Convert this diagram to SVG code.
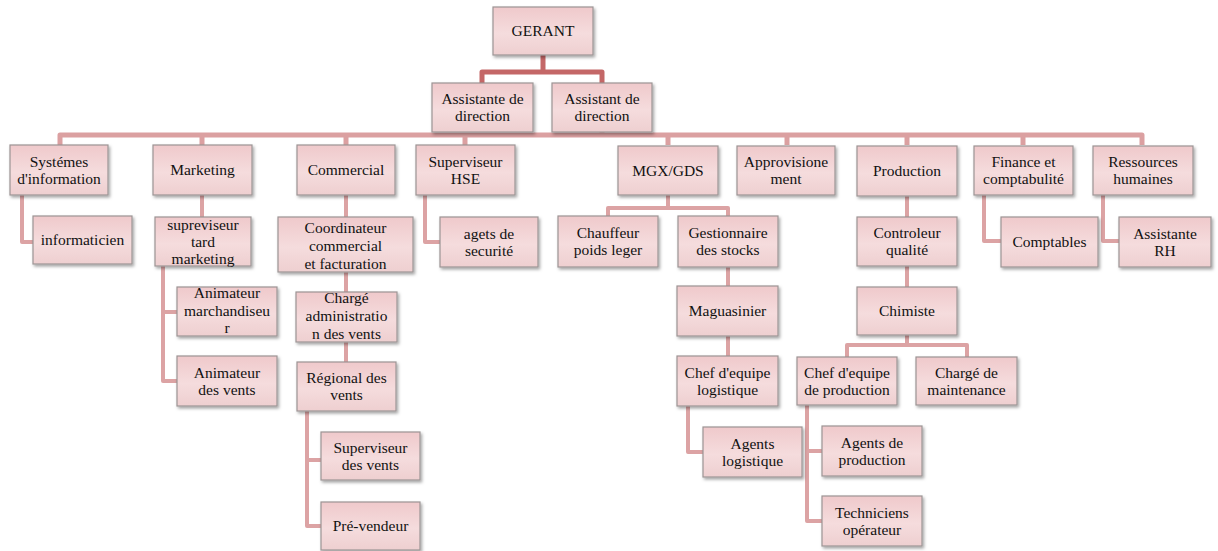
<svg xmlns="http://www.w3.org/2000/svg" width="1218" height="551" viewBox="0 0 1218 551">
<defs>
<linearGradient id="bg" x1="0" y1="0" x2="0" y2="1">
<stop offset="0" stop-color="#efc9cb"/>
<stop offset="0.55" stop-color="#f5dcdd"/>
<stop offset="1" stop-color="#eecfd0"/>
</linearGradient>
<filter id="sh" x="-10%" y="-10%" width="125%" height="130%">
<feDropShadow dx="1.5" dy="2" stdDeviation="1.5" flood-color="#000" flood-opacity="0.35"/>
</filter>
</defs>
<style>
.box{fill:url(#bg);stroke:#9c9494;stroke-width:1.2;filter:url(#sh)}
.t{font-family:"Liberation Serif","Times New Roman",serif;font-size:15.5px;fill:#111;text-anchor:middle}
.c{fill:none;stroke:#dca3a4;stroke-width:4;stroke-linejoin:round}
.top{fill:none;stroke:#c46767;stroke-width:5;stroke-linejoin:round}
.bar{fill:none;stroke:#dba0a1;stroke-width:5;stroke-linejoin:round}
</style>
<rect width="1218" height="551" fill="#fff"/>
<g id="connectors">
<path class="top" d="M543,55 V72 M482,83 V72 H602 V83"/>
<path class="bar" d="M60,145 V135 H1142 V145 M202,135 V145 M346,135 V145 M465,135 V145 M668,135 V145 M787,135 V145 M907,135 V145 M1023,135 V145 M602,132 V135"/>
<path class="c" d="M22,195 V242 H33"/>
<path class="c" d="M202,195 V217"/>
<path class="c" d="M163,266 V381 H177 M163,312 H177"/>
<path class="c" d="M346,195 V217 M346,272 V292 M346,342 V362"/>
<path class="c" d="M307,411 V526 H321 M307,460 H321"/>
<path class="c" d="M425,195 V242 H440"/>
<path class="c" d="M668,195 V208 M608,216 V208 H728 V216"/>
<path class="c" d="M728,267 V286 M728,336 V356"/>
<path class="c" d="M688,406 V452 H703"/>
<path class="c" d="M907,195 V217 M907,266 V287 M907,335 V345 M847,357 V345 H967 V357"/>
<path class="c" d="M807,405 V521 H822 M807,451 H822"/>
<path class="c" d="M984,195 V241 H1001"/>
<path class="c" d="M1103,195 V241 H1119"/>
</g>
<g id="n-gerant"><rect class="box" x="493" y="7" width="100" height="48"/><text class="t" x="543" y="36.4">GERANT</text></g>
<g id="n-assistante"><rect class="box" x="432" y="83" width="101" height="49"/><text class="t" x="482.5" y="104.4">Assistante de</text><text class="t" x="482.5" y="121.4">direction</text></g>
<g id="n-assistant"><rect class="box" x="552" y="83" width="100" height="49"/><text class="t" x="602" y="104.4">Assistant de</text><text class="t" x="602" y="121.4">direction</text></g>
<g id="n-systemes"><rect class="box" x="10" y="145" width="98" height="50"/><text class="t" x="59" y="166.9">Systémes</text><text class="t" x="59" y="183.9">d'information</text></g>
<g id="n-marketing"><rect class="box" x="153" y="145" width="99" height="50"/><text class="t" x="202.5" y="175.4">Marketing</text></g>
<g id="n-commercial"><rect class="box" x="297" y="145" width="98" height="50"/><text class="t" x="346" y="175.4">Commercial</text></g>
<g id="n-hse"><rect class="box" x="416" y="145" width="99" height="50"/><text class="t" x="465.5" y="166.9">Superviseur</text><text class="t" x="465.5" y="183.9">HSE</text></g>
<g id="n-mgx"><rect class="box" x="618" y="146" width="100" height="49"/><text class="t" x="668" y="175.9">MGX/GDS</text></g>
<g id="n-appro"><rect class="box" x="737" y="146" width="98" height="49"/><text class="t" x="786" y="167.4">Approvisione</text><text class="t" x="786" y="184.4">ment</text></g>
<g id="n-production"><rect class="box" x="857" y="146" width="100" height="50"/><text class="t" x="907" y="176.4">Production</text></g>
<g id="n-finance"><rect class="box" x="974" y="146" width="99" height="49"/><text class="t" x="1023.5" y="167.4">Finance et</text><text class="t" x="1023.5" y="184.4">comptabulité</text></g>
<g id="n-rh"><rect class="box" x="1093" y="146" width="100" height="49"/><text class="t" x="1143" y="167.4">Ressources</text><text class="t" x="1143" y="184.4">humaines</text></g>
<g id="n-informaticien"><rect class="box" x="33" y="216" width="99" height="48"/><text class="t" x="82.5" y="245.4">informaticien</text></g>
<g id="n-supreviseur"><rect class="box" x="155" y="217" width="96" height="49"/><text class="t" x="203" y="229.9">supreviseur</text><text class="t" x="203" y="246.9">tard</text><text class="t" x="203" y="263.9">marketing</text></g>
<g id="n-anim-march"><rect class="box" x="177" y="287" width="100" height="49"/><text class="t" x="227" y="298.4">Animateur</text><text class="t" x="227" y="315.9">marchandiseu</text><text class="t" x="227" y="333.4">r</text></g>
<g id="n-anim-vents"><rect class="box" x="177" y="356" width="100" height="50"/><text class="t" x="227" y="377.9">Animateur</text><text class="t" x="227" y="394.9">des vents</text></g>
<g id="n-coord"><rect class="box" x="278" y="217" width="135" height="55"/><text class="t" x="345.5" y="233.4">Coordinateur</text><text class="t" x="345.5" y="251.4">commercial</text><text class="t" x="345.5" y="269.4">et facturation</text></g>
<g id="n-charge-admin"><rect class="box" x="296" y="292" width="101" height="50"/><text class="t" x="346.5" y="303.4">Chargé</text><text class="t" x="346.5" y="321.4">administratio</text><text class="t" x="346.5" y="339.4">n des vents</text></g>
<g id="n-regional"><rect class="box" x="297" y="362" width="99" height="49"/><text class="t" x="346.5" y="383.4">Régional des</text><text class="t" x="346.5" y="400.4">vents</text></g>
<g id="n-sup-vents"><rect class="box" x="321" y="432" width="99" height="48"/><text class="t" x="370.5" y="452.9">Superviseur</text><text class="t" x="370.5" y="469.9">des vents</text></g>
<g id="n-prevendeur"><rect class="box" x="321" y="502" width="99" height="48"/><text class="t" x="370.5" y="531.4">Pré-vendeur</text></g>
<g id="n-agets"><rect class="box" x="440" y="217" width="98" height="50"/><text class="t" x="489" y="238.9">agets de</text><text class="t" x="489" y="255.9">securité</text></g>
<g id="n-chauffeur"><rect class="box" x="558" y="216" width="100" height="51"/><text class="t" x="608" y="238.4">Chauffeur</text><text class="t" x="608" y="255.4">poids leger</text></g>
<g id="n-gestionnaire"><rect class="box" x="678" y="216" width="100" height="51"/><text class="t" x="728" y="238.4">Gestionnaire</text><text class="t" x="728" y="255.4">des stocks</text></g>
<g id="n-maguasinier"><rect class="box" x="677" y="286" width="101" height="50"/><text class="t" x="727.5" y="316.4">Maguasinier</text></g>
<g id="n-chef-log"><rect class="box" x="677" y="356" width="101" height="50"/><text class="t" x="727.5" y="377.9">Chef d'equipe</text><text class="t" x="727.5" y="394.9">logistique</text></g>
<g id="n-agents-log"><rect class="box" x="703" y="427" width="99" height="50"/><text class="t" x="752.5" y="448.9">Agents</text><text class="t" x="752.5" y="465.9">logistique</text></g>
<g id="n-controleur"><rect class="box" x="857" y="217" width="100" height="49"/><text class="t" x="907" y="238.4">Controleur</text><text class="t" x="907" y="255.4">qualité</text></g>
<g id="n-chimiste"><rect class="box" x="857" y="287" width="100" height="48"/><text class="t" x="907" y="316.4">Chimiste</text></g>
<g id="n-chef-prod"><rect class="box" x="797" y="357" width="100" height="48"/><text class="t" x="847" y="377.9">Chef d'equipe</text><text class="t" x="847" y="394.9">de production</text></g>
<g id="n-maintenance"><rect class="box" x="916" y="357" width="101" height="48"/><text class="t" x="966.5" y="377.9">Chargé de</text><text class="t" x="966.5" y="394.9">maintenance</text></g>
<g id="n-agents-prod"><rect class="box" x="822" y="426" width="100" height="50"/><text class="t" x="872" y="447.9">Agents de</text><text class="t" x="872" y="464.9">production</text></g>
<g id="n-techniciens"><rect class="box" x="822" y="496" width="100" height="50"/><text class="t" x="872" y="517.9">Techniciens</text><text class="t" x="872" y="534.9">opérateur</text></g>
<g id="n-comptables"><rect class="box" x="1001" y="217" width="97" height="50"/><text class="t" x="1049.5" y="247.4">Comptables</text></g>
<g id="n-assistante-rh"><rect class="box" x="1119" y="217" width="92" height="50"/><text class="t" x="1165" y="238.9">Assistante</text><text class="t" x="1165" y="255.9">RH</text></g>
</svg>
